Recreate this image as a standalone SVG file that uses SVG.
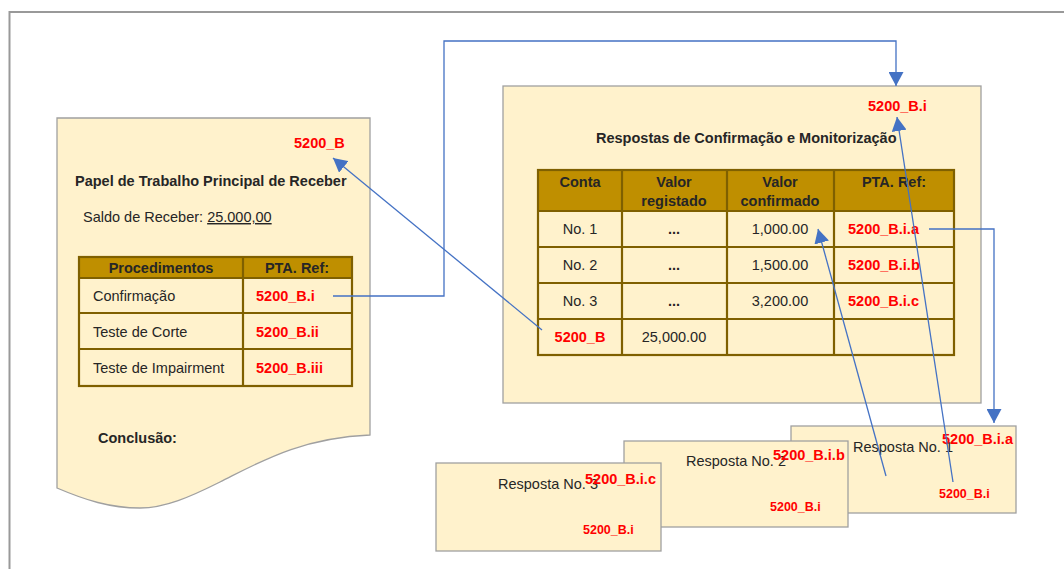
<svg xmlns="http://www.w3.org/2000/svg" width="1064" height="569" viewBox="0 0 1064 569">
  <defs>
    <style>
      text { font-family: "Liberation Sans", Arial, sans-serif; font-size: 14.5px; fill: #262626; }
      .b { font-weight: bold; }
      .ref { font-weight: bold; fill: #FF0000; }
      .sref { font-weight: bold; fill: #FF0000; font-size: 12.5px; }
      .c { text-anchor: middle; }
      .paper { fill: #FFF2CC; stroke: #A0A0A0; stroke-width: 1.3; }
      .hdr { fill: #BF8F00; }
      .grid { fill: none; stroke: #7F6000; stroke-width: 2.2; }
      .link { fill: none; stroke: #4472C4; stroke-width: 1.3; }
    </style>
    <marker id="arrow" markerUnits="userSpaceOnUse" markerWidth="15" markerHeight="15" refX="14" refY="7.5" orient="auto">
      <path d="M0,0 L14,7.5 L0,15 z" fill="#4472C4"/>
    </marker>
  </defs>

  <rect width="1064" height="569" fill="#FFFFFF"/>

  <!-- page frame -->
  <path d="M9.5,569 V12 H1064" fill="none" stroke="#999999" stroke-width="2"/>

  <!-- main working paper -->
  <g id="main-paper">
    <path class="paper" d="M57,118 H370 V435 C300,438 260,462 220,482 C190,497 165,508 140,508 C110,508 85,500 57,488 Z"/>
    <text class="ref" x="294" y="148">5200_B</text>
    <text class="b" x="75" y="186">Papel de Trabalho Principal de Receber</text>
    <text x="83" y="222">Saldo de Receber: <tspan text-decoration="underline">25.000,00</tspan></text>
    <rect class="hdr" x="79" y="257" width="273" height="21"/>
    <rect class="grid" x="79" y="257" width="273" height="129"/>
    <path class="grid" d="M79,278 H352 M79,313 H352 M79,349 H352 M243,257 V386"/>
    <text class="b c" x="161" y="273">Procedimentos</text>
    <text class="b c" x="297" y="273">PTA. Ref:</text>
    <text x="93" y="301">Confirmação</text>
    <text class="ref" x="256" y="301">5200_B.i</text>
    <text x="93" y="337">Teste de Corte</text>
    <text class="ref" x="256" y="337">5200_B.ii</text>
    <text x="93" y="373">Teste de Impairment</text>
    <text class="ref" x="256" y="373">5200_B.iii</text>
    <text class="b" x="98" y="443">Conclusão:</text>
  </g>

  <!-- confirmation responses paper -->
  <g id="responses-paper">
    <rect class="paper" x="503" y="86" width="478" height="317"/>
    <text class="ref" x="868" y="111">5200_B.i</text>
    <text class="b" x="596" y="143">Respostas de Confirmação e Monitorização</text>
    <rect class="hdr" x="538" y="170" width="416" height="41"/>
    <rect class="grid" x="538" y="170" width="416" height="185"/>
    <path class="grid" d="M538,211 H954 M538,247 H954 M538,283 H954 M538,319 H954 M622,170 V355 M727,170 V355 M834,170 V355"/>
    <text class="b c" x="580" y="187">Conta</text>
    <text class="b c" x="674" y="187">Valor</text>
    <text class="b c" x="674" y="206">registado</text>
    <text class="b c" x="780" y="187">Valor</text>
    <text class="b c" x="780" y="206">confirmado</text>
    <text class="b c" x="894" y="187">PTA. Ref:</text>

    <text class="c" x="580" y="234">No. 1</text>
    <text class="b c" x="674" y="234">...</text>
    <text class="c" x="780" y="234">1,000.00</text>
    <text class="ref" x="848" y="234">5200_B.i.a</text>

    <text class="c" x="580" y="270">No. 2</text>
    <text class="b c" x="674" y="270">...</text>
    <text class="c" x="780" y="270">1,500.00</text>
    <text class="ref" x="848" y="270">5200_B.i.b</text>

    <text class="c" x="580" y="306">No. 3</text>
    <text class="b c" x="674" y="306">...</text>
    <text class="c" x="780" y="306">3,200.00</text>
    <text class="ref" x="848" y="306">5200_B.i.c</text>

    <text class="ref c" x="580" y="342">5200_B</text>
    <text class="c" x="674" y="342">25,000.00</text>
  </g>

  <!-- individual response letters -->
  <g id="response-1">
    <rect class="paper" x="791" y="426" width="225" height="87"/>
    <text x="853" y="452">Resposta No. 1</text>
    <text class="ref" x="942" y="444">5200_B.i.a</text>
    <text class="sref" x="939" y="498">5200_B.i</text>
  </g>
  <g id="response-2">
    <rect class="paper" x="624" y="441" width="224" height="86"/>
    <text x="686" y="466">Resposta No. 2</text>
    <text class="ref" x="773" y="460">5200_B.i.b</text>
    <text class="sref" x="770" y="511">5200_B.i</text>
  </g>
  <g id="response-3">
    <rect class="paper" x="436" y="463" width="225" height="88"/>
    <text x="498" y="489">Resposta No. 3</text>
    <text class="ref" x="585" y="484">5200_B.i.c</text>
    <text class="sref" x="583" y="534">5200_B.i</text>
  </g>

  <!-- cross references -->
  <g id="connectors">
    <path class="link" marker-end="url(#arrow)" d="M333,296 H444 V41 H896 V86"/>
    <path class="link" marker-end="url(#arrow)" d="M542,330 L333,158"/>
    <path class="link" marker-end="url(#arrow)" d="M929,229 H994 V423"/>
    <path class="link" marker-end="url(#arrow)" d="M886,476 L818,229"/>
    <path class="link" marker-end="url(#arrow)" d="M953,482 L897,117"/>
  </g>
</svg>
